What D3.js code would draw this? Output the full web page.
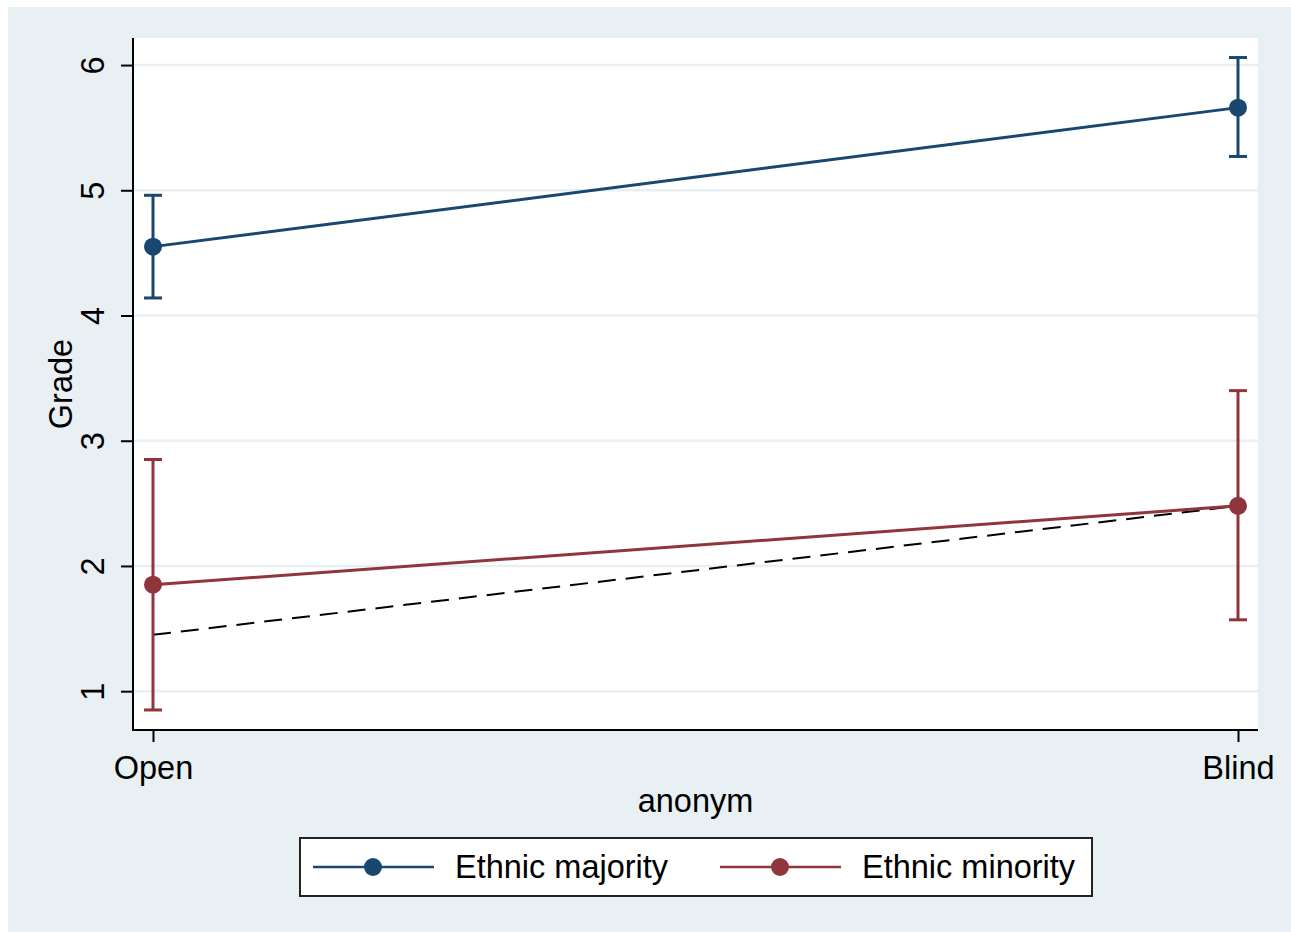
<!DOCTYPE html>
<html>
<head>
<meta charset="utf-8">
<script src="https://cdn.jsdelivr.net/npm/d3@7"></script>
<style>
  html, body { margin: 0; padding: 0; background: #fff; }
  svg { display: block; font-family: "Liberation Sans", Arial, sans-serif; }
</style>
</head>
<body>
<svg id="chart" width="1291" height="932"></svg>
<script>
const categories = ["Open", "Blind"];
const yTicks = [1, 2, 3, 4, 5, 6];

const majorityMean = [4.55, 5.66];
const majorityLow = [4.14, 5.27];
const majorityHigh = [4.96, 6.06];

const minorityMean = [1.85, 2.48];
const minorityLow = [0.85, 1.57];
const minorityHigh = [2.85, 3.40];

const refLine = [1.45, 2.48];

const seriesNames = ["Ethnic majority", "Ethnic minority"];

const blue = "#1a476f",
  red = "#90353b",
  bg = "#e8f0f3";

const svg = d3.select("#chart");

svg
  .append("rect")
  .attr("x", 8)
  .attr("y", 7)
  .attr("width", 1291 - 8)
  .attr("height", 932 - 7)
  .attr("fill", bg);

const plot = { left: 133, right: 1258, top: 38, bottom: 730 };

const x = d3
  .scalePoint()
  .domain(categories)
  .range([plot.left + 20, plot.right - 20]);

const y = d3.scaleLinear().domain([0.69, 6.216]).range([plot.bottom, plot.top]);

svg
  .append("rect")
  .attr("x", plot.left)
  .attr("y", plot.top)
  .attr("width", plot.right - plot.left)
  .attr("height", plot.bottom - plot.top)
  .attr("fill", "#fff");

// gridlines
svg
  .append("g")
  .selectAll("line")
  .data(yTicks)
  .join("line")
  .attr("x1", plot.left)
  .attr("x2", plot.right)
  .attr("y1", (d) => y(d))
  .attr("y2", (d) => y(d))
  .attr("stroke", bg)
  .attr("stroke-width", 2.5);

// y axis
const yAxis = svg
  .append("g")
  .attr("transform", `translate(${plot.left},0)`)
  .call(d3.axisLeft(y).tickValues(yTicks).tickSize(12).tickFormat(d3.format("d")));
yAxis.select(".domain").remove();
yAxis.selectAll(".tick line").attr("stroke", "#000").attr("stroke-width", 2);
yAxis
  .selectAll(".tick text")
  .attr("font-size", 32.5)
  .attr("fill", "#000")
  .attr("text-anchor", "middle")
  .attr("dy", null)
  .attr("transform", "rotate(-90)")
  .attr("x", 0)
  .attr("y", -29);

svg
  .append("line")
  .attr("x1", plot.left)
  .attr("x2", plot.left)
  .attr("y1", plot.top)
  .attr("y2", plot.bottom + 1)
  .attr("stroke", "#000")
  .attr("stroke-width", 2);

// x axis
const xAxis = svg
  .append("g")
  .attr("transform", `translate(0,${plot.bottom})`)
  .call(d3.axisBottom(x).tickSize(12).tickPadding(14));
xAxis.select(".domain").remove();
xAxis.selectAll(".tick line").attr("stroke", "#000").attr("stroke-width", 2);
xAxis.selectAll(".tick text").attr("font-size", 32.5).attr("fill", "#000");

svg
  .append("line")
  .attr("x1", plot.left - 1)
  .attr("x2", plot.right)
  .attr("y1", plot.bottom)
  .attr("y2", plot.bottom)
  .attr("stroke", "#000")
  .attr("stroke-width", 2);

// axis titles
svg
  .append("text")
  .attr("transform", `translate(72,${(plot.top + plot.bottom) / 2}) rotate(-90)`)
  .attr("text-anchor", "middle")
  .attr("font-size", 32.5)
  .text("Grade");

svg
  .append("text")
  .attr("x", (plot.left + plot.right) / 2)
  .attr("y", 812)
  .attr("text-anchor", "middle")
  .attr("font-size", 32.5)
  .text("anonym");

// dashed reference line
svg
  .append("line")
  .attr("x1", x(categories[0]))
  .attr("x2", x(categories[1]))
  .attr("y1", y(refLine[0]))
  .attr("y2", y(refLine[1]))
  .attr("stroke", "#000")
  .attr("stroke-width", 2)
  .attr("stroke-dasharray", "18,10");

function drawSeries(mean, low, high, color) {
  const g = svg.append("g");
  const line = d3
    .line()
    .x((d, i) => x(categories[i]))
    .y((d) => y(d));

  g.append("path")
    .datum(mean)
    .attr("d", line)
    .attr("fill", "none")
    .attr("stroke", color)
    .attr("stroke-width", 3);

  categories.forEach((c, i) => {
    const cx = x(c);
    g.append("line")
      .attr("x1", cx)
      .attr("x2", cx)
      .attr("y1", y(low[i]))
      .attr("y2", y(high[i]))
      .attr("stroke", color)
      .attr("stroke-width", 3);
    [low[i], high[i]].forEach((v) => {
      g.append("line")
        .attr("x1", cx - 9)
        .attr("x2", cx + 9)
        .attr("y1", y(v))
        .attr("y2", y(v))
        .attr("stroke", color)
        .attr("stroke-width", 3);
    });
    g.append("circle")
      .attr("cx", cx)
      .attr("cy", y(mean[i]))
      .attr("r", 9)
      .attr("fill", color);
  });
}

drawSeries(majorityMean, majorityLow, majorityHigh, blue);
drawSeries(minorityMean, minorityLow, minorityHigh, red);

// legend
const legend = svg.append("g");
legend
  .append("rect")
  .attr("x", 300)
  .attr("y", 838)
  .attr("width", 792)
  .attr("height", 58)
  .attr("fill", "#fff")
  .attr("stroke", "#222")
  .attr("stroke-width", 2);

const legendItems = [
  { name: seriesNames[0], color: blue, x0: 313 },
  { name: seriesNames[1], color: red, x0: 720 },
];
legendItems.forEach((d) => {
  legend
    .append("line")
    .attr("x1", d.x0)
    .attr("x2", d.x0 + 121)
    .attr("y1", 867)
    .attr("y2", 867)
    .attr("stroke", d.color)
    .attr("stroke-width", 2.5);
  legend
    .append("circle")
    .attr("cx", d.x0 + 60)
    .attr("cy", 867)
    .attr("r", 9)
    .attr("fill", d.color);
  legend
    .append("text")
    .attr("x", d.x0 + 142)
    .attr("y", 878)
    .attr("font-size", 32.5)
    .text(d.name);
});
</script>
</body>
</html>
